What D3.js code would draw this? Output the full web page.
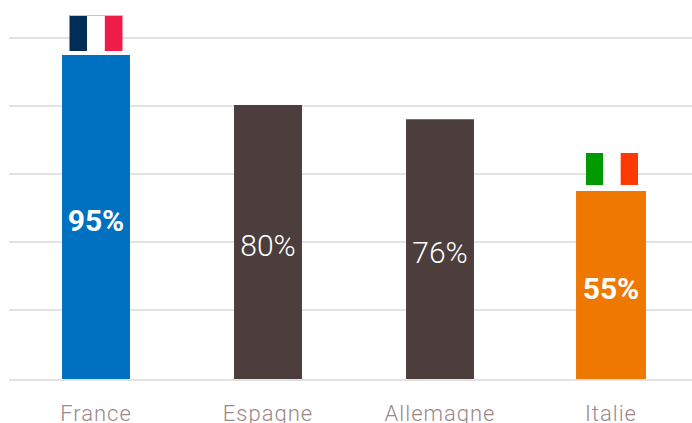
<!DOCTYPE html>
<html>
<head>
<meta charset="utf-8">
<script src="https://cdn.jsdelivr.net/npm/d3@7"></script>
<style>
  html, body { margin: 0; background: #fff; overflow: hidden; }
  text { font-family: Roboto, sans-serif; }
</style>
</head>
<body>
<div id="chart"></div>
<script>
// values
const countries = ["France", "Espagne", "Allemagne", "Italie"];
const shares = [95, 80.3, 76.1, 55];
const shareLabels = ["95%", "80%", "76%", "55%"];
const barColors = ["#0071c1", "#4b3e3c", "#4b3e3c", "#ee7800"];
const labelWeights = [700, 300, 300, 700];
const gridTicks = [20, 40, 60, 80, 100];
const flagColors = {
  France: ["#002d56", "#ffffff", "#f01c48"],
  Italie: ["#009a00", "#ffffff", "#ff3a00"]
};

const w = 692;
const h = 423;

const svg = d3.select("#chart")
  .append("svg")
  .attr("width", w)
  .attr("height", h)
  .style("display", "block");

const x = d3.scaleBand().domain(countries).range([10, 698]).paddingInner(0.605).paddingOuter(0.3025);
const y = d3.scaleLinear().domain([0, 100]).range([378, 38]);

// Gridlines
svg.append("g")
  .selectAll("line")
  .data(gridTicks)
  .enter()
  .append("line")
  .attr("x1", 9)
  .attr("x2", w)
  .attr("y1", (d) => y(d))
  .attr("y2", (d) => y(d))
  .attr("stroke", "#e5e0e2")
  .attr("stroke-width", 2);

// Baseline sits 2px under zero
svg.append("line")
  .attr("x1", 9)
  .attr("x2", w)
  .attr("y1", y(0) + 2)
  .attr("y2", y(0) + 2)
  .attr("stroke", "#e5e0e2")
  .attr("stroke-width", 2);

// Bars (Italie is a little wider on the left in the original)
svg.append("g")
  .selectAll("rect")
  .data(countries)
  .enter()
  .append("rect")
  .attr("x", (d) => x(d) - (d === "Italie" ? 2 : 0))
  .attr("width", (d) => x.bandwidth() + (d === "Italie" ? 2 : 0))
  .attr("y", (d, i) => y(shares[i]))
  .attr("height", (d, i) => y(0) + 1 - y(shares[i]))
  .attr("fill", (d, i) => barColors[i]);

// Share labels inside the bars
svg.append("g")
  .selectAll("text")
  .data(countries)
  .enter()
  .append("text")
  .attr("x", (d) => x(d) + x.bandwidth() / 2 - (d === "Italie" ? 1 : 0))
  .attr("y", (d, i) => (y(shares[i]) + y(0) + 1) / 2 + 14)
  .attr("text-anchor", "middle")
  .attr("fill", "#fff")
  .attr("font-size", 30)
  .attr("font-weight", (d, i) => labelWeights[i])
  .text((d, i) => shareLabels[i]);

// Country names
svg.append("g")
  .selectAll("text")
  .data(countries)
  .enter()
  .append("text")
  .attr("x", (d) => x(d) + x.bandwidth() / 2 - (d === "Italie" ? 1 : 0))
  .attr("y", 421)
  .attr("text-anchor", "middle")
  .attr("fill", "#9c8787")
  .attr("font-size", 22)
  .attr("font-weight", 300)
  .attr("letter-spacing", 1)
  .text((d) => d);

// Flags above the two highlighted bars
const flagSizes = { France: [53, 36, 4], Italie: [52, 32, 6] };
Object.keys(flagColors).forEach((name) => {
  const [fw, fh, gap] = flagSizes[name];
  const barTop = y(shares[countries.indexOf(name)]);
  const left = x(name) + x.bandwidth() / 2 - fw / 2;
  const flag = svg.append("g")
    .attr("transform", `translate(${left}, ${barTop - gap - fh})`);
  flag.selectAll("rect")
    .data(flagColors[name])
    .enter()
    .append("rect")
    .attr("x", (d, i) => (i * fw) / 3)
    .attr("width", fw / 3)
    .attr("height", fh)
    .attr("fill", (d) => d);
  // the French flag has a thin grey edge on top
  if (name === "France") {
    flag.append("rect")
      .attr("width", fw)
      .attr("height", 1)
      .attr("fill", "#c8c4c6");
  }
});
</script>
</body>
</html>
